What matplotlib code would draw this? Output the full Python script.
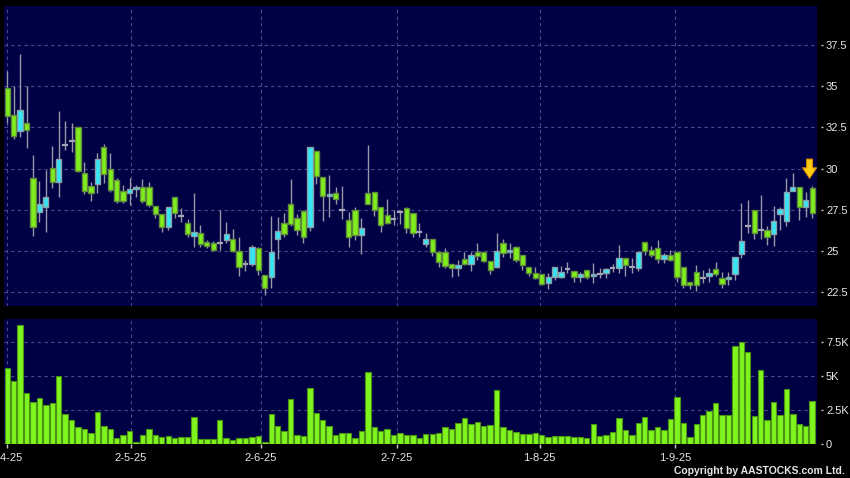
import numpy as np
import matplotlib.pyplot as plt

plt.rcParams['font.family'] = ['Liberation Sans', 'DejaVu Sans']

# daily OHLC (price) and volume (thousands), 1-4-25 .. end of Sep 2025
opens = [34.9, 33.23, 32.26, 32.76, 29.42, 27.36, 27.70, 30.03, 29.22, 31.41,
         31.67, 32.52, 29.73, 28.98, 29.06, 31.31, 29.97, 29.32, 28.65, 28.51,
         28.76, 28.86, 28.86, 27.76, 27.24, 26.45, 28.27, 27.16, 26.69, 25.92,
         26.08, 25.58, 25.48, 25.51, 25.68, 25.72, 25.03, 24.2, 24.24, 25.17,
         23.53, 23.41, 25.72, 26.69, 27.84, 26.99, 27.46, 26.48, 31.1, 29.52,
         28.35, 28.51, 27.5, 26.89, 27.5, 25.96, 28.51, 28.61, 27.7, 27.19,
         26.95, 27.35, 27.6, 27.29, 26.14, 25.41, 25.72, 24.97, 24.97, 24.2,
         23.96, 24.5, 24.2, 24.97, 24.97, 24.42, 24.02, 25.47, 24.93, 25.27,
         24.75, 24.02, 23.65, 23.61, 23.05, 23.45, 23.45, 23.9, 23.81, 23.45,
         23.86, 23.51, 23.59, 23.69, 23.96, 24.0, 24.61, 24.06, 24.0, 25.53,
         25.04, 25.18, 24.51, 24.74, 24.94, 24.02, 23.15, 23.76, 23.35, 23.52,
         23.9, 23.35, 23.31, 23.62, 24.82, 26.5, 27.48, 26.3, 26.3, 26.06,
         27.25, 26.81, 28.64, 28.88, 27.68, 28.84]
highs = [35.9, 35.03, 36.97, 35.03, 30.84, 29.26, 29.93, 31.35, 33.47, 32.92,
         32.80, 32.52, 30.39, 29.22, 30.94, 31.49, 30.94, 29.42, 29.02, 29.42,
         29.02, 29.38, 29.18, 27.76, 27.24, 27.66, 28.27, 27.6, 26.93, 28.51,
         26.59, 25.65, 25.6, 27.5, 26.77, 26.34, 25.88, 24.46, 25.35, 25.25,
         23.53, 27.13, 27.05, 27.29, 29.4, 27.25, 27.5, 31.3, 31.1, 29.52,
         29.62, 28.87, 28.95, 27.39, 27.66, 26.99, 31.44, 28.61, 27.7, 28.16,
         27.5, 27.5, 27.66, 27.29, 26.69, 26.08, 25.72, 24.97, 25.17, 24.2,
         24.46, 24.97, 24.97, 25.47, 24.97, 24.42, 26.08, 25.72, 25.47, 25.33,
         24.75, 24.02, 24.06, 23.61, 23.65, 24.02, 24.1, 24.34, 23.81, 23.75,
         23.86, 24.26, 23.96, 23.96, 24.2, 25.35, 24.61, 24.57, 24.94, 25.53,
         25.28, 25.69, 24.88, 25.08, 24.94, 24.02, 23.15, 24.17, 23.86, 23.96,
         24.33, 23.76, 23.76, 24.63, 27.89, 28.13, 27.48, 28.43, 26.54, 27.76,
         27.68, 29.45, 29.72, 28.88, 28.58, 28.98]
lows = [32.76, 31.79, 31.95, 31.24, 25.94, 26.79, 26.18, 28.82, 28.31, 31.14,
        31.0, 29.77, 28.47, 28.05, 28.51, 29.12, 28.61, 27.9, 27.9, 27.8,
        28.31, 27.9, 27.7, 26.99, 26.14, 26.29, 26.99, 26.75, 25.88, 25.23,
        25.27, 25.17, 25.0, 25.07, 25.47, 24.97, 23.49, 23.81, 24.1, 23.55,
        22.34, 22.74, 24.54, 25.84, 26.53, 25.96, 25.51, 26.22, 29.07, 26.85,
        27.05, 27.86, 26.95, 25.27, 25.68, 24.81, 27.88, 27.15, 26.18, 26.65,
        26.6, 26.65, 26.08, 25.84, 25.88, 25.27, 24.72, 24.06, 23.96, 23.45,
        23.49, 24.16, 23.81, 24.46, 24.36, 23.61, 23.96, 24.62, 24.6, 24.36,
        23.86, 23.51, 23.31, 22.92, 22.68, 23.25, 23.35, 23.65, 23.15, 23.15,
        23.29, 23.05, 23.35, 23.35, 23.75, 23.66, 23.46, 23.66, 23.82, 24.78,
        24.67, 24.27, 24.27, 24.37, 23.15, 22.74, 22.68, 22.6, 23.09, 23.15,
        23.52, 22.74, 22.95, 23.25, 24.57, 26.1, 25.73, 25.73, 25.35, 25.28,
        26.3, 26.5, 28.64, 26.91, 27.07, 27.01]
closes = [33.2, 32.01, 33.57, 32.36, 26.49, 27.84, 28.31, 29.22, 30.58, 31.41,
          31.67, 29.89, 28.67, 28.51, 30.58, 29.69, 28.71, 28.07, 28.07, 28.76,
          28.86, 28.01, 27.8, 27.24, 26.45, 27.66, 27.3, 27.16, 26.02, 26.18,
          25.41, 25.31, 25.07, 25.51, 26.02, 25.01, 24.02, 24.2, 25.25, 23.86,
          22.74, 24.97, 26.2, 26.04, 26.63, 26.28, 25.84, 31.3, 29.56, 28.35,
          28.47, 28.18, 27.5, 25.88, 25.96, 26.38, 27.88, 27.5, 26.59, 26.69,
          26.95, 27.35, 26.38, 26.08, 26.14, 25.72, 24.97, 24.36, 24.12, 23.96,
          24.16, 24.2, 24.77, 24.72, 24.42, 23.86, 25.03, 24.87, 25.07, 24.46,
          24.18, 23.65, 23.35, 23.01, 23.41, 24.02, 23.75, 23.9, 23.45, 23.61,
          23.45, 23.61, 23.59, 23.9, 23.96, 24.61, 24.13, 24.06, 24.94, 25.02,
          24.74, 24.51, 24.78, 24.47, 23.41, 22.95, 22.95, 22.95, 23.35, 23.7,
          23.62, 23.01, 23.41, 24.63, 25.59, 26.5, 26.1, 26.3, 25.85, 26.81,
          27.55, 28.58, 28.88, 27.68, 28.09, 27.32]
volumes_k = [5.54, 4.6, 8.73, 3.73, 3.04, 3.38, 2.84, 3.01, 4.98, 2.2,
             1.74, 1.23, 1.1, 0.76, 2.33, 1.27, 1.05, 0.39, 0.59, 0.91,
             0.12, 0.59, 1.08, 0.59, 0.51, 0.54, 0.39, 0.51, 0.51, 1.96,
             0.32, 0.32, 0.32, 1.76, 0.42, 0.29, 0.37, 0.44, 0.51, 0.56,
             0.12, 2.18, 1.3, 0.91, 3.31, 0.59, 0.56, 4.12, 2.25, 1.76,
             1.3, 0.66, 0.78, 0.76, 0.44, 0.93, 5.29, 1.25, 0.93, 1.05,
             0.66, 0.76, 0.66, 0.59, 0.44, 0.69, 0.71, 0.74, 1.23, 1.08,
             1.52, 1.86, 1.4, 1.57, 1.32, 1.37, 3.97, 1.25, 0.98, 0.86,
             0.69, 0.69, 0.78, 0.61, 0.51, 0.56, 0.54, 0.56, 0.49, 0.49,
             0.44, 1.47, 0.54, 0.59, 0.86, 1.86, 0.96, 0.66, 1.54, 1.94,
             0.96, 1.18, 1.0, 1.84, 3.43, 1.52, 0.47, 1.47, 2.13, 2.4,
             3.01, 2.08, 2.11, 7.16, 7.5, 6.72, 1.99, 5.39, 1.76, 3.06,
             2.08, 4.0, 2.2, 1.42, 1.3, 3.14]

date_labels = ["1-4-25", "2-5-25", "2-6-25", "2-7-25", "1-8-25", "1-9-25"]
date_pos = [-0.1, 19.2, 39.4, 60.5, 82.7, 103.7]
price_ticks = [22.5, 25, 27.5, 30, 32.5, 35, 37.5]
price_labels = ["22.5", "25", "27.5", "30", "32.5", "35", "37.5"]
vol_ticks = [0, 2.5, 5, 7.5]
vol_labels = ["0", "2.5K", "5K", "7.5K"]

o = np.array(opens); h = np.array(highs); l = np.array(lows); c = np.array(closes)
x = np.arange(len(c))

BG = '#000044'
GRID = '#4a4a88'
TXT = '#e6e6e6'

fig = plt.figure(figsize=(8.5, 4.78), dpi=100, facecolor='black')
ax = fig.add_axes([4/850, 1 - 306/478, 813/850, 300/478], facecolor=BG)
axv = fig.add_axes([4/850, 1 - 443.5/478, 813/850, 124.5/478], facecolor=BG, sharex=ax)

# candles: cyan = up, green = down, grey dash = unchanged
ax.vlines(x, l, h, color='#9898a8', lw=1, zorder=2)
bot = np.minimum(o, c)
hgt = np.abs(c - o)
up = c > o
dn = c < o
fl = c == o
ax.bar(x[up], hgt[up], bottom=bot[up], width=0.82, color='#36e6f4',
       edgecolor='#8aa0aa', lw=1, zorder=3)
ax.bar(x[dn], hgt[dn], bottom=bot[dn], width=0.82, color='#80ee1c',
       edgecolor='#5e8c3a', lw=1, zorder=3)
ax.hlines(c[fl], x[fl] - 0.45, x[fl] + 0.45, color='#a4a4b4', lw=1.6, zorder=3)

# marker arrow above last bars
ax.annotate('', xy=(124.6, 29.25), xytext=(124.6, 30.75),
            arrowprops=dict(arrowstyle='simple,head_length=0.75,head_width=1.0,tail_width=0.42',
                            fc='#ffcc14', ec='#e09000', lw=0.8, mutation_scale=10),
            zorder=5)

# volume
axv.bar(x, volumes_k, width=0.84, color='#80f41e', edgecolor='#4a9414', lw=0.8, zorder=3)

for a in (ax, axv):
    a.set_xlim(-0.5, 125.75)
    for s in a.spines.values():
        s.set_visible(False)
    a.yaxis.tick_right()
    a.spines['right'].set_position(('outward', 3))
    a.tick_params(axis='y', colors='#c8c8c8', labelcolor=TXT, labelsize=8,
                  length=1.5, width=1, pad=2)
    a.grid(True, color=GRID, ls=(0, (3, 3)), lw=0.8, zorder=1)
    a.set_axisbelow(True)

ax.set_ylim(21.67, 39.87)
ax.set_yticks(price_ticks)
ax.set_yticklabels(price_labels)
ax.tick_params(axis='x', bottom=False, labelbottom=False)

axv.set_ylim(0, 9.17)
axv.set_yticks(vol_ticks)
axv.set_yticklabels(vol_labels)
axv.set_xticks(date_pos)
axv.set_xticklabels(date_labels)
axv.tick_params(axis='x', colors='#c8c8c8', labelcolor=TXT, labelsize=8,
                length=3, width=1, pad=4)

fig.text(845/850, (478 - 471)/478, "Copyright by AASTOCKS.com Ltd.", color=TXT,
         fontsize=7.5, fontweight='bold', ha='right', va='center')

fig.savefig('out.png', dpi=100, facecolor='black')
